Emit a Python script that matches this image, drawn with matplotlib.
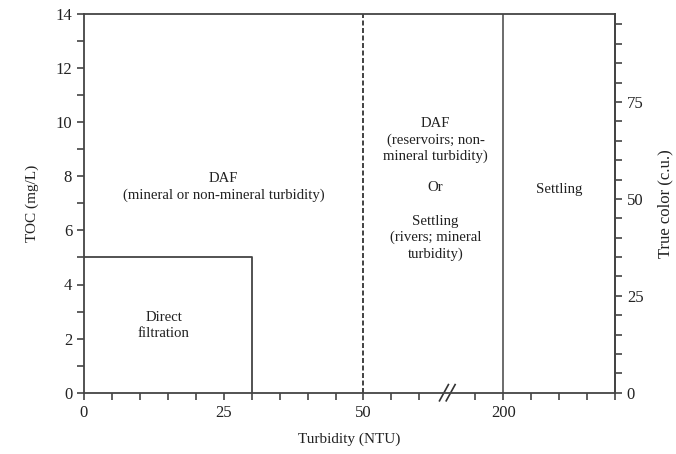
import matplotlib
matplotlib.use("Agg")
import matplotlib.pyplot as plt
import numpy as np

plt.rcParams['font.family'] = ['Liberation Serif', 'DejaVu Serif']

# axis scales (x is a broken axis: positions 0..60 are NTU, 75 is 200 NTU)
x_ticks = [0, 25, 50, 75]
x_tick_labels = ['0', '25', '50', '200']
x_minor = [v for v in range(0, 96, 5) if v != 65]
x_break = 65
x_max = 95

toc_max = 14
color_max = 97.7
color_ticks = [0, 25, 50, 75]

# boundaries
box_x = [0, 30, 30]
box_y = [5, 5, 0]
daf_limit = 50      # 50 NTU (dashed)
settle_limit = 75   # 200 NTU position

# region labels: (x, y, text)
labels = [
    (25, 7.6, 'DAF\n(mineral or non-mineral turbidity)'),
    (14.3, 2.5, 'Direct\nfiltration'),
    (62.9, 9.34, 'DAF\n(reservoirs; non-\nmineral turbidity)'),
    (62.9, 7.6, 'Or'),
    (62.9, 5.72, 'Settling\n(rivers; mineral\nturbidity)'),
    (85, 7.53, 'Settling'),
]

line_col = '#444444'
text_col = '#222222'

fig = plt.figure(figsize=(6.76, 4.54), dpi=100)
ax = fig.add_axes([84 / 676, 61.3 / 454, (615 - 84) / 676, (392.7 - 14) / 454])

ax.set_xlim(0, x_max)
ax.set_ylim(0, toc_max)

ax.plot(box_x, box_y, color=line_col, lw=1.3)
ax.plot([daf_limit, daf_limit], [0, toc_max], color='#222222', lw=1.2, ls=(0, (3, 1.5)))
ax.plot([settle_limit, settle_limit], [0, toc_max], color=line_col, lw=1.1)

for x, y, t in labels:
    ax.text(x, y, t, ha='center', va='center', fontsize=10.6, color=text_col, linespacing=1.3)

# break marks on the x axis
for dx in (-0.6, 0.6):
    ax.plot([x_break + dx - 0.8, x_break + dx + 0.8], [-0.3, 0.3], color='#333333', lw=1.2, clip_on=False)

ax.set_xticks(x_ticks)
ax.set_xticklabels(x_tick_labels)
ax.set_xticks(x_minor, minor=True)
ax.set_yticks(np.arange(0, 15, 2))
ax.set_yticks(np.arange(1, 14, 2), minor=True)

for s in ax.spines.values():
    s.set_color(line_col)
    s.set_linewidth(1.3)

ax.tick_params(which='both', direction='out', length=5, width=1.2, color=line_col,
               labelsize=12, labelcolor=text_col)
ax.tick_params(axis='x', pad=4)
ax.set_xlabel('Turbidity (NTU)', fontsize=11, color=text_col, labelpad=8)
ax.set_ylabel('TOC (mg/L)', fontsize=11, color=text_col, labelpad=12)

ax2 = ax.twinx()
ax2.set_ylim(0, color_max)
ax2.set_yticks(color_ticks)
ax2.set_yticks(np.arange(0, 96, 5), minor=True)
for s in ax2.spines.values():
    s.set_visible(False)
ax2.spines['right'].set_visible(True)
ax2.spines['right'].set_color(line_col)
ax2.spines['right'].set_linewidth(1.3)
ax2.tick_params(which='both', direction='out', length=5, width=1.2, color=line_col,
                labelsize=12, labelcolor=text_col)
ax2.set_ylabel('True color (c.u.)', fontsize=12, color=text_col, labelpad=10)

fig.savefig('out.png', dpi=100)
